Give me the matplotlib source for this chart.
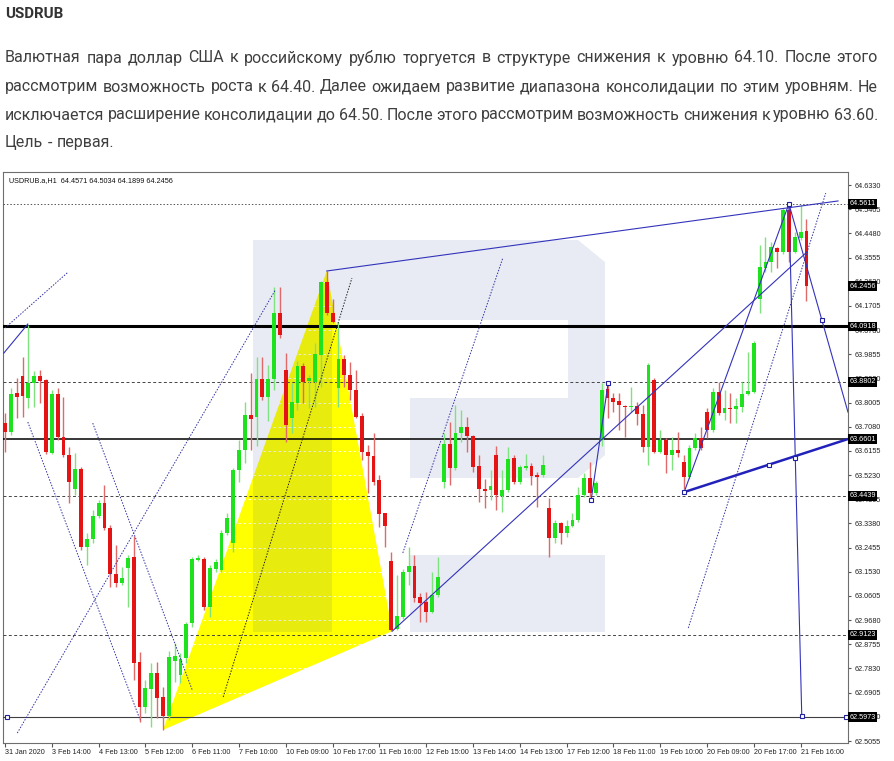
import matplotlib
matplotlib.use("Agg")
import matplotlib.pyplot as plt
import matplotlib.transforms as mtransforms
from matplotlib.path import Path
from matplotlib.patches import PathPatch, Polygon
import numpy as np

# ---- data (bar index -> OHLC) ----
opens = [63.723, 63.688, 63.838, 63.902, 63.818, 63.876, 63.902, 63.887, 63.608, 63.834,
         63.669, 63.600, 63.470, 63.547, 63.248, 63.279, 63.366, 63.416, 63.320, 63.145,
         63.110, 63.168, 63.209, 62.808, 62.635, 62.705, 62.766, 62.674, 62.601, 62.812,
         62.758, 62.823, 62.957, 63.198, 63.202, 63.018, 63.164, 63.160, 63.301, 63.263,
         63.543, 63.619, 63.753, 63.746, 63.891, 63.822, 63.891, 64.143, 63.925, 63.742,
         63.799, 63.940, 63.883, 63.879, 63.982, 64.262, 64.143, 63.856, 63.967, 63.906,
         63.849, 63.749, 63.611, 63.596, 63.504, 63.378, 63.194, 62.934, 62.980, 63.152,
         63.175, 63.057, 63.037, 62.999, 63.064, 63.497, 63.642, 63.550, 63.685, 63.707,
         63.673, 63.558, 63.470, 63.466, 63.600, 63.443, 63.466, 63.589, 63.497, 63.550,
         63.558, 63.524, 63.524, 63.397, 63.282, 63.340, 63.301, 63.328, 63.351, 63.447,
         63.512, 63.455, 63.657, 63.852, 63.818, 63.807, 63.788, 63.784, 63.788, 63.757,
         63.631, 63.887, 63.611, 63.657, 63.600, 63.619, 63.573, 63.516, 63.627, 63.665,
         63.765, 63.696, 63.841, 63.761, 63.780, 63.776, 63.784, 63.834, 63.841, 64.197,
         64.316, 64.338, 64.392, 64.377, 64.537, 64.377, 64.430, 64.4571]
highs = [63.761, 63.856, 63.895, 63.975, 64.097, 63.921, 63.925, 63.891, 63.849, 63.856,
         63.822, 63.631, 63.608, 63.554, 63.301, 63.389, 63.428, 63.485, 63.332, 63.255,
         63.171, 63.217, 63.290, 62.846, 62.739, 62.804, 62.808, 62.712, 62.850, 62.881,
         62.842, 62.961, 63.209, 63.217, 63.209, 63.179, 63.202, 63.313, 63.378, 63.550,
         63.657, 63.803, 63.914, 63.975, 63.975, 63.944, 64.243, 64.243, 63.990, 63.876,
         63.959, 63.952, 63.906, 64.029, 64.266, 64.304, 64.197, 64.109, 63.982, 63.956,
         63.925, 63.761, 63.638, 63.685, 63.524, 63.378, 63.229, 63.141, 63.164, 63.248,
         63.217, 63.072, 63.076, 63.152, 63.209, 63.685, 63.726, 63.791, 63.772, 63.746,
         63.677, 63.600, 63.508, 63.543, 63.634, 63.543, 63.631, 63.600, 63.562, 63.604,
         63.570, 63.535, 63.600, 63.435, 63.351, 63.344, 63.351, 63.378, 63.477, 63.531,
         63.573, 63.501, 63.876, 63.876, 63.838, 63.838, 63.791, 63.860, 63.803, 63.791,
         63.952, 63.895, 63.696, 63.665, 63.669, 63.688, 63.600, 63.638, 63.685, 63.707,
         63.780, 63.856, 63.879, 63.849, 63.838, 63.818, 63.879, 63.994, 64.036, 64.403,
         64.434, 64.415, 64.396, 64.545, 64.561, 64.453, 64.556, 64.5034]
lows = [63.611, 63.677, 63.742, 63.746, 63.780, 63.784, 63.799, 63.604, 63.604, 63.657,
        63.592, 63.416, 63.447, 63.236, 63.179, 63.263, 63.358, 63.313, 63.095, 63.095,
        63.102, 63.018, 62.739, 62.578, 62.612, 62.559, 62.594, 62.548, 62.586, 62.731,
        62.727, 62.804, 62.942, 63.194, 63.007, 62.980, 63.152, 63.152, 63.294, 63.229,
        63.497, 63.570, 63.619, 63.634, 63.810, 63.730, 63.849, 64.048, 63.650, 63.685,
        63.772, 63.799, 63.780, 63.784, 63.860, 64.135, 64.105, 63.784, 63.860, 63.810,
        63.742, 63.581, 63.455, 63.485, 63.324, 63.248, 62.926, 62.930, 62.973, 63.102,
        63.037, 62.961, 62.961, 62.996, 63.057, 63.474, 63.485, 63.543, 63.650, 63.611,
        63.535, 63.420, 63.397, 63.428, 63.389, 63.382, 63.458, 63.489, 63.489, 63.543,
        63.485, 63.401, 63.516, 63.209, 63.263, 63.259, 63.286, 63.324, 63.344, 63.439,
        63.439, 63.447, 63.634, 63.742, 63.765, 63.696, 63.669, 63.765, 63.715, 63.611,
        63.562, 63.608, 63.608, 63.531, 63.543, 63.592, 63.470, 63.508, 63.619, 63.619,
        63.665, 63.688, 63.753, 63.734, 63.723, 63.723, 63.765, 63.830, 63.838, 64.143,
        64.300, 64.300, 64.315, 64.369, 64.338, 64.373, 64.423, 64.1899]
closes = [63.688, 63.834, 63.822, 63.826, 63.876, 63.902, 63.883, 63.611, 63.834, 63.669,
          63.600, 63.497, 63.547, 63.248, 63.279, 63.366, 63.416, 63.320, 63.145, 63.110,
          63.129, 63.206, 62.804, 62.635, 62.709, 62.766, 62.670, 62.601, 62.827, 62.831,
          62.819, 62.953, 63.202, 63.206, 63.018, 63.168, 63.190, 63.301, 63.358, 63.543,
          63.619, 63.753, 63.738, 63.891, 63.822, 63.891, 64.143, 64.059, 63.715, 63.803,
          63.940, 63.879, 63.895, 63.986, 64.262, 64.143, 64.109, 63.967, 63.906, 63.849,
          63.746, 63.611, 63.596, 63.497, 63.374, 63.328, 62.930, 62.984, 63.152, 63.175,
          63.053, 63.034, 62.999, 63.064, 63.133, 63.642, 63.550, 63.685, 63.707, 63.673,
          63.554, 63.470, 63.462, 63.481, 63.447, 63.466, 63.585, 63.497, 63.554, 63.558,
          63.520, 63.516, 63.562, 63.282, 63.340, 63.301, 63.328, 63.351, 63.447, 63.512,
          63.455, 63.493, 63.849, 63.818, 63.803, 63.791, 63.784, 63.788, 63.757, 63.631,
          63.944, 63.611, 63.657, 63.600, 63.619, 63.608, 63.516, 63.627, 63.665, 63.627,
          63.696, 63.841, 63.761, 63.780, 63.776, 63.788, 63.834, 63.845, 64.029, 64.319,
          64.338, 64.396, 64.377, 64.537, 64.377, 64.434, 64.453, 64.2456]

date_labels = ["31 Jan 2020", "3 Feb 14:00", "4 Feb 13:00", "5 Feb 12:00", "6 Feb 11:00",
               "7 Feb 10:00", "10 Feb 09:00", "10 Feb 17:00", "11 Feb 16:00", "12 Feb 15:00",
               "13 Feb 14:00", "14 Feb 13:00", "17 Feb 12:00", "18 Feb 11:00", "19 Feb 10:00",
               "20 Feb 09:00", "20 Feb 17:00", "21 Feb 16:00"]
bars_per_label = 8

price_ticks = [64.6330, 64.5405, 64.4480, 64.3555, 64.2630, 64.1705, 64.0780, 63.9855,
               63.8930, 63.8005, 63.7080, 63.6155, 63.5230, 63.4305, 63.3380, 63.2455,
               63.1530, 63.0605, 62.9680, 62.8755, 62.7830, 62.6905, 62.5980, 62.5055]
marked_levels = [64.5611, 64.2456, 64.0918, 63.8802, 63.6601, 63.4439, 62.9123, 62.5973]
dotted_levels = [64.5611]
dashed_levels = [63.8802, 63.4439, 62.9123]
thick_level = 64.0918
solid_level = 63.6601
low_level = 62.5973

# harmonic pattern X-A-B (bar, price)
pattern_bars = [27, 55, 66.2]
pattern_prices = [62.548, 64.304, 62.926]

# drawn trend lines: (bar0, price0, bar1, price1)
solid_lines = [(55.0, 64.304, 142.4, 64.572),
               (66.2, 62.926, 137.1, 64.377),
               (134.0, 64.561, 144.1, 63.764),
               (116.1, 63.458, 134.0, 64.561),
               (100.2, 63.428, 103.1, 63.876),
               (134.0, 64.561, 136.2, 62.601),
               (-0.2, 63.990, 3.9, 64.101)]
thick_line = (116.1, 63.458, 144.1, 63.661)
dotted_lines = [(68.0, 63.225, 85.1, 64.354),
                (2.1, 62.536, 46.2, 64.231),
                (3.9, 63.726, 23.1, 62.586),
                (15.0, 63.722, 32.0, 62.701),
                (0.0, 64.086, 10.8, 64.300),
                (116.8, 62.938, 140.3, 64.602)]
black_dotted = [(37.3, 62.674, 59.3, 64.277)]
square_pts = [(100.2, 63.428), (103.1, 63.876), (116.1, 63.458), (130.6, 63.562),
              (135.0, 63.589), (139.7, 64.116), (134.0, 64.561), (136.2, 62.601),
              (0.3, 62.5973), (143.8, 62.5973)]

para = ["Валютная пара доллар США к российскому рублю торгуется в структуре снижения к уровню 64.10. После этого",
        "рассмотрим возможность роста к 64.40. Далее ожидаем развитие диапазона консолидации по этим уровням. Не",
        "исключается расширение консолидации до 64.50. После этого рассмотрим возможность снижения к уровню 63.60.",
        "Цель - первая."]

W, H = 895, 761
fig = plt.figure(figsize=(W / 100, H / 100), dpi=100)
renderer = fig.canvas.get_renderer()

fig.text(5 / W, 1 - 14 / H, "USDRUB", fontsize=10.8, fontweight="bold", family="Roboto",
         color="#333333", va="center")


def put_line(text, y, justify, size=11.5, x0=5, x1=878):
    words = text.split()
    items = [fig.text(0, 1 - y / H, w, fontsize=size, family="Roboto", color="#3f3f3f",
                      va="center") for w in words]
    widths = [t.get_window_extent(renderer).width for t in items]
    gap = (x1 - x0 - sum(widths)) / (len(words) - 1) if justify else 4.5
    x = x0
    for t, w in zip(items, widths):
        t.set_x(x / W)
        x += w + gap


for k, (line, y) in enumerate(zip(para, [58, 87, 115, 143])):
    put_line(line, y, k < 3)

# chart axes
left, right, top, bottom = 3.5, 848, 172, 743
ax = fig.add_axes([left / W, 1 - bottom / H, (right - left) / W, (bottom - top) / H])
bar_px = 5.85
x0 = -(5 - left) / bar_px
ax.set_xlim(x0, x0 + (right - left) / bar_px)
ax.set_ylim(62.4979, 64.6828)

# watermark logo, in chart pixel space
px = mtransforms.Affine2D().translate(-left, -bottom).scale(1 / (right - left), -1 / (bottom - top)) + ax.transAxes
verts, codes = [], []
outline = [(253, 632), (253, 240), (578, 240), (605, 262), (605, 455), (578, 478),
           (410, 478), (410, 398), (568, 398), (568, 320), (332, 320), (332, 632), (253, 632)]
leg = [(410, 555), (605, 555), (605, 632), (410, 632), (410, 555)]
for poly in (outline, leg):
    verts += poly
    codes += [Path.MOVETO] + [Path.LINETO] * (len(poly) - 2) + [Path.CLOSEPOLY]
ax.add_patch(PathPatch(Path(verts, codes), transform=px, fc="#1f3f8f", ec="none",
                       alpha=0.10, zorder=2))

ax.add_patch(Polygon(list(zip(pattern_bars, pattern_prices)), closed=True, fc="#ffff00",
                     ec="none", zorder=1))
for p in price_ticks:
    ax.axhline(p, color="white", lw=0.6, ls=(0, (3, 3)), zorder=1.5)

for p in dotted_levels:
    ax.axhline(p, color="#555555", lw=0.7, ls=(0, (1.5, 2)), zorder=3)
for p in dashed_levels:
    ax.axhline(p, color="#444444", lw=0.7, ls=(0, (3, 2.5)), zorder=3)
ax.axhline(thick_level, color="black", lw=2.2, zorder=3)
ax.axhline(solid_level, color="black", lw=1.1, zorder=3)
ax.axhline(low_level, color="#404040", lw=0.8, zorder=3)

for b0, p0, b1, p1 in solid_lines:
    ax.plot([b0, b1], [p0, p1], color="#3333bb", lw=0.8, zorder=6)
ax.plot(thick_line[::2], thick_line[1::2], color="#2222bb", lw=1.8, zorder=6)
for b0, p0, b1, p1 in dotted_lines:
    ax.plot([b0, b1], [p0, p1], color="#3030a0", lw=0.7, ls=(0, (1.5, 1.5)), zorder=6)
for b0, p0, b1, p1 in black_dotted:
    ax.plot([b0, b1], [p0, p1], color="#222222", lw=0.7, ls=(0, (1.5, 1.5)), zorder=6)

# candles
o, hi, lo, c = map(np.array, (opens, highs, lows, closes))
idx = np.arange(len(o))
up = c >= o
ax.vlines(idx[up], lo[up], hi[up], color="#7ee27e", lw=1, zorder=4)
ax.vlines(idx[~up], lo[~up], hi[~up], color="#e06a6a", lw=1, zorder=4)
ax.bar(idx, np.maximum(np.abs(c - o), 0.004), bottom=np.minimum(o, c), width=0.66,
       color=np.where(up, "#1ee21e", "#e41414"), linewidth=0, zorder=5)

sq = np.array(square_pts)
ax.plot(sq[:, 0], sq[:, 1], ls="none", marker="s", ms=3, mfc="white", mec="#2020a0",
        mew=0.8, zorder=7, clip_on=False)

ax.text((9 - left) / (right - left), (bottom - 181) / (bottom - top),
        "USDRUB.a,H1  64.4571 64.5034 64.1899 64.2456", transform=ax.transAxes,
        fontsize=5.2, family="Liberation Sans", va="center", color="#111111")

# axes cosmetics
for s in ax.spines.values():
    s.set_color("#6e6e6e")
    s.set_linewidth(0.8)
ax.set_xticks(list(range(0, len(date_labels) * bars_per_label, bars_per_label)))
ax.set_xticklabels(date_labels, fontsize=5.2, family="Liberation Sans", color="#222222")
for t in ax.get_xticklabels():
    t.set_ha("left")
ax.tick_params(axis="x", length=3, pad=1.5, color="#555555")
ax.yaxis.tick_right()
ax.set_yticks(price_ticks)
ax.set_yticklabels([f"{p:.4f}" for p in price_ticks], fontsize=5.2, family="Liberation Sans",
                   color="#222222")
ax.tick_params(axis="y", length=2.5, pad=2, color="#555555")

ytr = ax.get_yaxis_transform()
for p in marked_levels:
    ax.text(1.0015, p, f"{p:.4f}", transform=ytr, fontsize=5.2, family="Liberation Sans",
            color="white", va="center", ha="left", zorder=10, clip_on=False,
            bbox=dict(boxstyle="square,pad=0.18", fc="black", ec="none"))

fig.savefig("out.png", dpi=100)
